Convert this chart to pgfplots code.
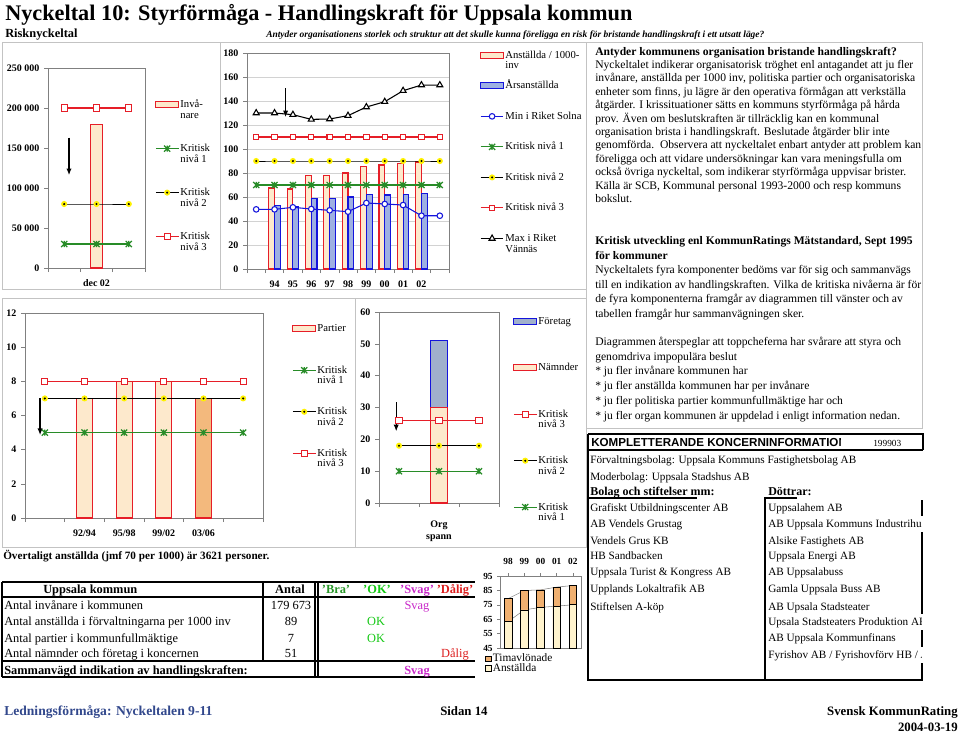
\documentclass[border=0pt]{standalone}
\usepackage{pgfplots}
\pgfplotsset{compat=1.18}
\usetikzlibrary{arrows.meta}
\usepackage{fontspec}
\setmainfont{Liberation Serif}
\newfontfamily\arialfont{Liberation Sans}

\definecolor{kred}{RGB}{230,30,40}
\definecolor{kgreen}{RGB}{40,140,40}
\definecolor{kblue}{RGB}{20,20,220}
\definecolor{peach}{RGB}{253,233,204}
\definecolor{bluebar}{RGB}{158,176,226}
\definecolor{foretag}{RGB}{160,176,204}
\definecolor{darkpeach}{RGB}{243,185,125}
\definecolor{timorange}{RGB}{240,176,112}
\definecolor{cream}{RGB}{255,243,205}
\definecolor{framegray}{RGB}{195,195,195}
\definecolor{axgray}{RGB}{128,128,128}
\definecolor{okgreen}{RGB}{20,200,20}
\definecolor{bragreen}{RGB}{40,150,40}
\definecolor{svag}{RGB}{200,40,200}
\definecolor{dalig}{RGB}{220,30,30}
\definecolor{footblue}{RGB}{50,72,140}

\pgfdeclareplotmark{xstar}{%
  \pgfpathmoveto{\pgfqpoint{-\pgfplotmarksize}{-\pgfplotmarksize}}%
  \pgfpathlineto{\pgfqpoint{\pgfplotmarksize}{\pgfplotmarksize}}%
  \pgfpathmoveto{\pgfqpoint{-\pgfplotmarksize}{\pgfplotmarksize}}%
  \pgfpathlineto{\pgfqpoint{\pgfplotmarksize}{-\pgfplotmarksize}}%
  \pgfpathmoveto{\pgfqpoint{0pt}{-\pgfplotmarksize}}%
  \pgfpathlineto{\pgfqpoint{0pt}{\pgfplotmarksize}}%
  \pgfusepathqstroke}
\pgfdeclareplotmark{ydot}{%
  \pgfpathcircle{\pgfpointorigin}{\pgfplotmarksize}%
  \pgfsetfillcolor{yellow}%
  \pgfusepathqfill
  \pgfpathcircle{\pgfpointorigin}{0.38\pgfplotmarksize}%
  \pgfsetfillcolor{black}%
  \pgfusepathqfill}

\newcommand\lgd[2]{\raisebox{0pt}[6pt][2pt]{\begin{tabular}[t]{@{}l@{}}#1\\[-1.5pt]#2\end{tabular}}}
\newcommand\lgs[1]{\raisebox{0pt}[6pt][2pt]{#1}}
\newcommand\fbody{\fontsize{8.7}{10}\selectfont}
\newcommand\ftab{\fontsize{9.3}{11}\selectfont}
\newcommand\fkon{\fontsize{8.4}{10}\selectfont}

\pgfplotsset{
  kaxis/.style={scale only axis, axis line style={axgray}, tick style={axgray, thin},
    tick align=outside, major tick length=3pt, xtick pos=bottom, ytick pos=left,
    scaled y ticks=false,
    tick label style={font=\bfseries\fontsize{7.5}{8}\selectfont},
    extra x tick style={major tick length=0pt, tick label style={yshift=-5.5pt}},
    legend cell align=left,
    legend style={draw=none, fill=none, anchor=north west, inner sep=0pt,
      font=\fontsize{8}{9.5}\selectfont, nodes={inner sep=1pt}},
  },
  k3/.style={kred, line width=0.8pt, mark=square*, mark options={solid, fill=white, draw=kred}, mark size=2.3pt},
  k2/.style={black, line width=0.7pt, mark=ydot, mark size=2.3pt},
  k1/.style={kgreen, line width=0.8pt, mark=xstar, mark size=2.3pt, mark options={kgreen, line width=0.9pt}},
  barleg/.style={legend image code/.code={\draw[##1,/tikz/.cd] (0pt,-2.2pt) rectangle (17pt,2.2pt);}},
}

\begin{document}
\begin{tikzpicture}[x=0.75pt,y=-0.75pt]
\path[use as bounding box] (0,0) rectangle (960,733);

% panel frames
\draw[framegray, line width=0.6pt] (2,42) rectangle (220,289);
\draw[framegray, line width=0.6pt] (220,42) rectangle (586,289);
\draw[framegray, line width=0.6pt] (2,298) rectangle (355,547);
\draw[framegray, line width=0.6pt] (355,298) rectangle (586,547);
\draw[framegray, line width=0.6pt] (586,42) rectangle (922,428);

% titles
\node[anchor=base west, inner sep=0pt, font=\bfseries\fontsize{16.7}{20}\selectfont] at (5,20) {Nyckeltal 10: Styrförmåga - Handlingskraft för Uppsala kommun};
\node[anchor=base west, inner sep=0pt, font=\bfseries\fontsize{9.3}{11}\selectfont] at (5,37) {Risknyckeltal};
\node[anchor=base west, inner sep=0pt, font=\bfseries\itshape\fontsize{7.1}{9}\selectfont] at (266,37) {Antyder organisationens storlek och struktur att det skulle kunna föreligga en risk för bristande handlingskraft i ett utsatt läge?};

% ---------- Chart 1: invanare ----------
\begin{axis}[kaxis, at={(36pt,-201pt)}, anchor=south west, width=72.75pt, height=150pt,
  xmin=0.5, xmax=3.5, ymin=0, ymax=250000,
  xtick={0.5,1.5,2.5,3.5}, xticklabels={},
  extra x ticks={2}, extra x tick labels={dec 02},
  ytick={0,50000,100000,150000,200000,250000},
  yticklabels={0,50 000,100 000,150 000,200 000,250 000},
  legend style={at={(axis description cs:1.103,0.85)}, row sep=23.5pt}]
\addplot[ybar, bar width=9.5pt, bar shift=0pt, fill=peach, draw=kred, line width=0.8pt, barleg] coordinates {(2,179673)};
\addlegendentry{\lgd{Invå-}{nare}}
\addplot[k1] coordinates {(1,30000)(2,30000)(3,30000)};
\addlegendentry{\lgd{Kritisk}{nivå 1}}
\addplot[k2] coordinates {(1,80000)(2,80000)(3,80000)};
\addlegendentry{\lgd{Kritisk}{nivå 2}}
\addplot[k3] coordinates {(1,200000)(2,200000)(3,200000)};
\addlegendentry{\lgd{Kritisk}{nivå 3}}
\draw[-{Latex[length=5pt,width=4pt]}, line width=1pt] (axis cs:1.15,163000) -- (axis cs:1.15,116000);
\end{axis}

% ---------- Chart 2: anstallda ----------
\begin{axis}[kaxis, at={(185.25pt,-201.75pt)}, anchor=south west, width=151.5pt, height=162pt,
  xmin=0.5, xmax=11.5, ymin=0, ymax=180,
  ytick={0,20,...,180}, yticklabels={0,20,40,60,80,100,120,140,160,180},
  ymajorgrids, grid style={gray!35, thin},
  xtick={0.5,1.5,...,11.5}, xticklabels={},
  extra x ticks={2,3,4,5,6,7,8,9,10}, extra x tick labels={94,95,96,97,98,99,00,01,02},
  extra x tick style={grid=none},
  legend style={at={(axis description cs:1.153,1.02)}, row sep=13.4pt}]
\addplot[ybar, bar width=4.3pt, bar shift=-2.15pt, fill=peach, draw=kred, line width=0.8pt, barleg] coordinates {(2,67.5)(3,66.7)(4,77.8)(5,78.3)(6,80)(7,85.8)(8,86.7)(9,88.3)(10,89.2)};
\addlegendentry{\lgd{Anställda / 1000-}{inv}}
\addplot[ybar, bar width=4.3pt, bar shift=2.15pt, fill=bluebar, draw=kblue, line width=0.8pt, barleg] coordinates {(2,53)(3,52.2)(4,58.9)(5,58.9)(6,60)(7,62.2)(8,61.7)(9,61.9)(10,62.8)};
\addlegendentry{\lgs{Årsanställda}}
\addplot[kblue, line width=0.8pt, mark=*, mark size=2.1pt, mark options={fill=white, draw=kblue}] coordinates {(1,49.7)(2,49.7)(3,51.4)(4,50)(5,48.9)(6,47.8)(7,55)(8,54.2)(9,53.3)(10,44.4)(11,44.4)};
\addlegendentry{\lgs{Min i Riket Solna}}
\addplot[k1] coordinates {(1,70)(2,70)(3,70)(4,70)(5,70)(6,70)(7,70)(8,70)(9,70)(10,70)(11,70)};
\addlegendentry{\lgs{Kritisk nivå 1}}
\addplot[k2] coordinates {(1,90)(2,90)(3,90)(4,90)(5,90)(6,90)(7,90)(8,90)(9,90)(10,90)(11,90)};
\addlegendentry{\lgs{Kritisk nivå 2}}
\addplot[k3, mark size=2pt] coordinates {(1,110)(2,110)(3,110)(4,110)(5,110)(6,110)(7,110)(8,110)(9,110)(10,110)(11,110)};
\addlegendentry{\lgs{Kritisk nivå 3}}
\addplot[black, line width=0.8pt, mark=triangle*, mark size=2.6pt, mark options={fill=white, draw=black}] coordinates {(1,130)(2,130)(3,128.6)(4,124.7)(5,125)(6,127.8)(7,135)(8,139.4)(9,148.6)(10,153.3)(11,153.3)};
\addlegendentry{\lgd{Max i Riket}{Vännäs}}
\draw[-{Latex[length=5pt,width=4pt]}, line width=1pt] (axis cs:2.6,150.7) -- (axis cs:2.6,126.5);
\end{axis}

% ---------- Chart 3: partier ----------
\begin{axis}[kaxis, at={(18.75pt,-388.5pt)}, anchor=south west, width=178.5pt, height=153.75pt,
  xmin=0.5, xmax=6.5, ymin=0, ymax=12,
  ytick={0,2,...,12}, yticklabels={0,2,4,6,8,10,12},
  xtick={0.5,1.5,...,6.5}, xticklabels={},
  extra x ticks={2,3,4,5}, extra x tick labels={92/94,95/98,99/02,03/06},
  legend style={at={(axis description cs:1.122,0.955)}, row sep=21.6pt}]
\addplot[ybar, bar width=12pt, bar shift=0pt, fill=peach, draw=kred, line width=0.8pt, barleg] coordinates {(2,7)(3,8)(4,8)};
\addlegendentry{\lgs{Partier}}
\addplot[ybar, bar width=12pt, bar shift=0pt, fill=darkpeach, draw=kred, line width=0.8pt, forget plot] coordinates {(5,7)};
\addplot[k1] coordinates {(1,5)(2,5)(3,5)(4,5)(5,5)(6,5)};
\addlegendentry{\lgd{Kritisk}{nivå 1}}
\addplot[k2] coordinates {(1,7)(2,7)(3,7)(4,7)(5,7)(6,7)};
\addlegendentry{\lgd{Kritisk}{nivå 2}}
\addplot[k3] coordinates {(1,8)(2,8)(3,8)(4,8)(5,8)(6,8)};
\addlegendentry{\lgd{Kritisk}{nivå 3}}
\draw[-{Latex[length=5pt,width=4pt]}, line width=1pt] (axis cs:0.88,7) -- (axis cs:0.88,4.85);
\end{axis}

% ---------- Chart 4: org spann ----------
\begin{axis}[kaxis, at={(284.25pt,-377.25pt)}, anchor=south west, width=90pt, height=143.25pt,
  xmin=0.5, xmax=3.5, ymin=0, ymax=60,
  ytick={0,10,...,60}, yticklabels={0,10,20,30,40,50,60},
  xtick={0.5,1.5,2.5,3.5}, xticklabels={},
  extra x ticks={2}, extra x tick labels={\begin{tabular}[t]{@{}c@{}}Org\\[0.5pt]spann\end{tabular}},
  extra x tick style={tick label style={yshift=-4pt}},
  legend style={at={(axis description cs:1.117,0.985)}, row sep=25.3pt}]
\addplot[ybar, bar width=12.5pt, bar shift=0pt, fill=foretag, draw=kblue, line width=0.8pt, barleg] coordinates {(2,51)};
\addlegendentry{\lgs{Företag}}
\addplot[ybar, bar width=12.5pt, bar shift=0pt, fill=peach, draw=kred, line width=0.8pt, barleg] coordinates {(2,30)};
\addlegendentry{\lgs{Nämnder}}
\addplot[k3] coordinates {(1,26)(2,26)(3,26)};
\addlegendentry{\lgd{Kritisk}{nivå 3}}
\addplot[k2] coordinates {(1,18)(2,18)(3,18)};
\addlegendentry{\lgd{Kritisk}{nivå 2}}
\addplot[k1] coordinates {(1,10)(2,10)(3,10)};
\addlegendentry{\lgd{Kritisk}{nivå 1}}
\draw[-{Latex[length=5pt,width=4pt]}, line width=1pt] (axis cs:0.93,31.7) -- (axis cs:0.93,22.5);
\end{axis}

% ---------- Chart 5: small stacked ----------
\begin{axis}[kaxis, at={(375pt,-486pt)}, anchor=south west, width=60.75pt, height=54pt,
  xmin=0.5, xmax=5.5, ymin=45, ymax=95,
  ytick={45,55,...,95}, yticklabels={45,55,65,75,85,95},
  xtick={1,2,3,4,5}, xticklabels={98,99,00,01,02}, xticklabel pos=upper, xtick pos=upper,
  major tick length=2pt,
  tick label style={font=\bfseries\fontsize{7}{8}\selectfont},
  x tick label style={yshift=3pt},
  legend style={at={(axis description cs:-0.19,-0.06)}, row sep=-2pt, font=\fontsize{8.5}{9}\selectfont},
  legend image code/.code={\draw[#1,/tikz/.cd] (0pt,-2.2pt) rectangle (4.5pt,2.2pt);}]
\addplot[gray, thin, forget plot] coordinates {(1,63.3)(2,71.5)(3,73.2)(4,74.1)(5,75)};
\addplot[gray, thin, forget plot] coordinates {(1,79.3)(2,84.9)(3,85.4)(4,87.3)(5,88.4)};
\addplot[ybar, bar width=5.6pt, bar shift=0pt, fill=timorange, draw=black, line width=0.5pt] coordinates {(1,79.3)(2,84.9)(3,85.4)(4,87.3)(5,88.4)};
\addlegendentry{Timavlönade}
\addplot[ybar, bar width=5.6pt, bar shift=0pt, fill=cream, draw=black, line width=0.5pt] coordinates {(1,63.3)(2,71.5)(3,73.2)(4,74.1)(5,75)};
\addlegendentry{Anställda}
\end{axis}

% ---------- Overtaligt + table ----------
\node[anchor=base west, inner sep=0pt, font=\bfseries\fontsize{8.4}{10}\selectfont] at (3,559) {Övertaligt anställda (jmf 70 per 1000) är 3621 personer.};

\draw[line width=1.4pt] (2,582) -- (475,582);
\draw[line width=1.4pt] (2,677) -- (475,677);
\draw[line width=1.4pt] (2,582) -- (2,677);
\draw[line width=0.8pt] (2,597) -- (475,597);
\draw[line width=1.4pt] (2,661) -- (475,661);
\draw[line width=0.8pt] (263,582) -- (263,661);
\draw[line width=0.8pt] (315,582) -- (315,677);
\draw[line width=0.8pt] (318,582) -- (318,677);

\begin{scope}[font=\ftab]
\node[anchor=base west, inner sep=0pt, font=\ftab\bfseries] at (43,593) {Uppsala kommun};
\node[anchor=base, inner sep=0pt, font=\ftab\bfseries] at (290,593) {Antal};
\node[anchor=base, inner sep=0pt, font=\ftab\bfseries, text=bragreen] at (336,593) {'Bra'};
\node[anchor=base, inner sep=0pt, font=\ftab\bfseries, text=okgreen] at (377,593) {'OK'};
\node[anchor=base, inner sep=0pt, font=\ftab\bfseries, text=svag] at (417,593) {'Svag'};
\node[anchor=base, inner sep=0pt, font=\ftab\bfseries, text=dalig] at (455,593) {'Dålig'};
\node[anchor=base west, inner sep=0pt] at (4,609.5) {Antal invånare i kommunen};
\node[anchor=base west, inner sep=0pt] at (4,625.5) {Antal anställda i förvaltningarna per 1000 inv};
\node[anchor=base west, inner sep=0pt] at (4,642) {Antal partier i kommunfullmäktige};
\node[anchor=base west, inner sep=0pt] at (4,657) {Antal nämnder och företag i koncernen};
\node[anchor=base, inner sep=0pt] at (291,609.5) {179 673};
\node[anchor=base, inner sep=0pt] at (291,625.5) {89};
\node[anchor=base, inner sep=0pt] at (291,642) {7};
\node[anchor=base, inner sep=0pt] at (291,657) {51};
\node[anchor=base, inner sep=0pt, text=svag] at (417,609.5) {Svag};
\node[anchor=base, inner sep=0pt, text=okgreen] at (376,625.5) {OK};
\node[anchor=base, inner sep=0pt, text=okgreen] at (376,642) {OK};
\node[anchor=base, inner sep=0pt, text=dalig] at (455,657) {Dålig};
\node[anchor=base west, inner sep=0pt, font=\ftab\bfseries] at (4,674) {Sammanvägd indikation av handlingskraften:};
\node[anchor=base, inner sep=0pt, font=\ftab\bfseries, text=svag] at (417,674) {Svag};
\end{scope}

% ---------- right text ----------
\begin{scope}[every node/.style={anchor=base west, inner sep=0pt, font=\fbody}]
\node[font=\fbody\bfseries] at (595,55) {Antyder kommunens organisation bristande handlingskraft?};
\node at (595,68.4) {Nyckeltalet indikerar organisatorisk tröghet enl antagandet att ju fler};
\node at (595,81.8) {invånare, anställda per 1000 inv, politiska partier och organisatoriska};
\node at (595,95.2) {enheter som finns, ju lägre är den operativa förmågan att verkställa};
\node at (595,108.6) {åtgärder. I krissituationer sätts en kommuns styrförmåga på hårda};
\node at (595,122) {prov. Även om beslutskraften är tillräcklig kan en kommunal};
\node at (595,135.4) {organisation brista i handlingskraft. Beslutade åtgärder blir inte};
\node at (595,148.8) {genomförda.\ \ Observera att nyckeltalet enbart antyder att problem kan};
\node at (595,162.2) {föreligga och att vidare undersökningar kan vara meningsfulla om};
\node at (595,175.6) {också övriga nyckeltal, som indikerar styrförmåga uppvisar brister.};
\node at (595,189) {Källa är SCB, Kommunal personal 1993-2000 och resp kommuns};
\node at (595,202.4) {bokslut.};
\node[font=\fbody\bfseries] at (595,244.5) {Kritisk utveckling enl KommunRatings Mätstandard, Sept 1995};
\node[font=\fbody\bfseries] at (595,259) {för kommuner};
\node at (595,273.5) {Nyckeltalets fyra komponenter bedöms var för sig och sammanvägs};
\node at (595,288) {till en indikation av handlingskraften. Vilka de kritiska nivåerna är för};
\node at (595,302.5) {de fyra komponenterna framgår av diagrammen till vänster och av};
\node at (595,317) {tabellen framgår hur sammanvägningen sker.};
\node at (595,345) {Diagrammen återspeglar att toppcheferna har svårare att styra och};
\node at (595,360) {genomdriva impopulära beslut};
\node at (595,374.5) {* ju fler invånare kommunen har};
\node at (595,389) {* ju fler anställda kommunen har per invånare};
\node at (595,404) {* ju fler politiska partier kommunfullmäktige har och};
\node at (595,419) {* ju fler organ kommunen är uppdelad i enligt information nedan.};
\end{scope}

% ---------- koncern box ----------
\draw[line width=0.9pt] (588,434) -- (923,434) -- (923,450);
\draw[line width=2pt] (588,450) -- (923,450);
\draw[line width=0.9pt] (588,434) -- (588,680) -- (923,680);
\draw[line width=0.9pt] (588,498) -- (697,498);
\draw[line width=0.9pt] (797,498) -- (765,498) -- (765,680);
\draw[line width=0.9pt] (922,500) -- (922,516);
\draw[line width=0.9pt] (922,532) -- (922,614);
\draw[line width=0.9pt] (922,630) -- (922,647);
\draw[line width=0.9pt] (922,663) -- (922,680);
\begin{scope}
\clip (588,434) rectangle (840,450);
\node[anchor=base west, inner sep=0pt, font=\arialfont\bfseries\fontsize{8.7}{10}\selectfont] at (591,446) {KOMPLETTERANDE KONCERNINFORMATION};
\end{scope}
\node[anchor=base west, inner sep=0pt, font=\fontsize{7}{8}\selectfont] at (873,446) {199903};
\begin{scope}[every node/.style={anchor=base west, inner sep=0pt, font=\fkon}]
\node at (590,463.5) {Förvaltningsbolag: Uppsala Kommuns Fastighetsbolag AB};
\node at (590,480) {Moderbolag: Uppsala Stadshus AB};
\node[font=\fontsize{9}{10}\selectfont\bfseries] at (590,495) {Bolag och stiftelser mm:};
\node[font=\fontsize{9}{10}\selectfont\bfseries] at (768,495) {Döttrar:};
\node at (590,511.8) {Grafiskt Utbildningscenter AB};
\node at (590,527.8) {AB Vendels Grustag};
\node at (590,544.2) {Vendels Grus KB};
\node at (590,559.5) {HB Sandbacken};
\node at (590,575.2) {Uppsala Turist \& Kongress AB};
\node at (590,592.5) {Upplands Lokaltrafik AB};
\node at (590,610.2) {Stiftelsen A-köp};
\end{scope}
\begin{scope}
\clip (766,500) rectangle (921.5,680);
\begin{scope}[every node/.style={anchor=base west, inner sep=0pt, font=\fkon}]
\node at (768,511.8) {Uppsalahem AB};
\node at (768,527.8) {AB Uppsala Kommuns Industrihus};
\node at (768,544.2) {Alsike Fastighets AB};
\node at (768,559.5) {Uppsala Energi AB};
\node at (768,575.2) {AB Uppsalabuss};
\node at (768,592.5) {Gamla Uppsala Buss AB};
\node at (768,610.2) {AB Upsala Stadsteater};
\node at (768,625.8) {Upsala Stadsteaters Produktion AB};
\node at (768,641.8) {AB Uppsala Kommunfinans};
\node at (768,658.5) {Fyrishov AB / Fyrishovförv HB / AB};
\end{scope}
\end{scope}

% ---------- footer ----------
\node[anchor=base west, inner sep=0pt, font=\bfseries\fontsize{10.2}{12}\selectfont, text=footblue] at (4,715) {Ledningsförmåga: Nyckeltalen 9-11};
\node[anchor=base west, inner sep=0pt, font=\bfseries\fontsize{9.6}{12}\selectfont] at (440,715) {Sidan 14};
\node[anchor=base east, inner sep=0pt, font=\bfseries\fontsize{9.6}{12}\selectfont] at (958,715) {Svensk KommunRating};
\node[anchor=base east, inner sep=0pt, font=\bfseries\fontsize{9.6}{12}\selectfont] at (958,731) {2004-03-19};
\end{tikzpicture}
\end{document}
